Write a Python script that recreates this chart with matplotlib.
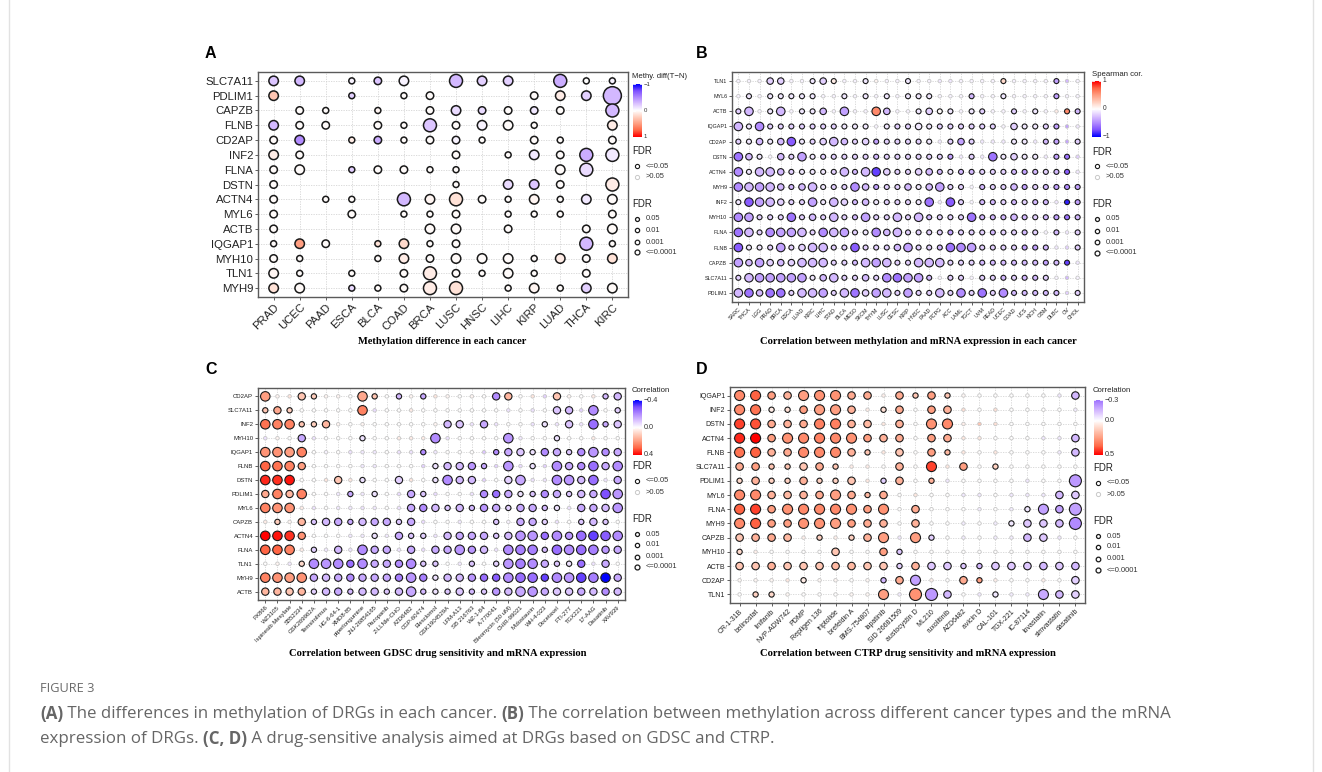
import numpy as np
import matplotlib.pyplot as plt
from matplotlib.colors import LinearSegmentedColormap

# ---------------- data ----------------
# sizes: A -> 0 = no point, 1..5 bubble size; B/C/D -> 0 = FDR>0.05, 1..4 bubble size
# values in hundredths (methylation diff / correlation)
a_genes = ["SLC7A11", "PDLIM1", "CAPZB", "FLNB", "CD2AP", "INF2", "FLNA", "DSTN",
           "ACTN4", "MYL6", "ACTB", "IQGAP1", "MYH10", "TLN1", "MYH9"]
a_cancers = ["PRAD", "UCEC", "PAAD", "ESCA", "BLCA", "COAD", "BRCA", "LUSC",
             "HNSC", "LIHC", "KIRP", "LUAD", "THCA", "KIRC"]
a_size = [
    [3, 3, 0, 1, 2, 3, 0, 4, 3, 3, 0, 4, 1, 1],
    [3, 0, 0, 1, 0, 1, 2, 0, 0, 0, 2, 3, 3, 5],
    [0, 2, 1, 0, 1, 0, 2, 3, 2, 2, 2, 2, 0, 4],
    [3, 2, 2, 0, 2, 1, 4, 2, 3, 3, 1, 0, 0, 3],
    [2, 3, 0, 1, 2, 1, 2, 2, 1, 0, 2, 1, 0, 2],
    [3, 2, 0, 0, 0, 0, 0, 2, 0, 1, 3, 2, 4, 4],
    [2, 3, 0, 1, 2, 2, 1, 1, 0, 0, 0, 3, 4, 0],
    [2, 0, 0, 0, 0, 0, 0, 1, 0, 3, 3, 2, 0, 4],
    [2, 0, 1, 1, 0, 4, 3, 4, 2, 1, 3, 1, 3, 3],
    [2, 0, 0, 2, 0, 1, 1, 2, 0, 1, 1, 1, 0, 2],
    [2, 0, 0, 0, 0, 0, 3, 3, 0, 2, 0, 0, 2, 3],
    [1, 3, 2, 0, 1, 3, 1, 2, 0, 0, 0, 0, 4, 1],
    [2, 1, 0, 0, 1, 3, 2, 3, 3, 3, 1, 3, 2, 3],
    [3, 1, 0, 1, 0, 2, 4, 2, 1, 3, 1, 0, 2, 0],
    [3, 3, 0, 1, 1, 2, 4, 4, 0, 1, 3, 1, 3, 3],
]
a_val = [
    [-25, -30, 0, -5, -25, -5, 0, -30, -20, -20, 0, -35, 0, -5],
    [30, 0, 0, -20, 0, 2, 2, 0, 0, 0, 2, 10, -20, -30],
    [0, 2, 2, 0, 5, 0, 2, -15, -15, 2, -10, 2, 0, -30],
    [-30, 2, 2, 0, 2, 2, -25, 2, -5, 2, 2, 0, 0, 10],
    [2, -50, 0, 10, -35, 2, 2, -5, 2, 0, 2, 2, 0, 2],
    [10, 2, 0, 0, 0, 0, 0, 2, 0, 2, -10, 2, -35, -10],
    [2, 2, 0, -20, 2, 2, 2, 2, 0, 0, 0, 2, -15, 0],
    [2, 0, 0, 0, 0, 0, 0, 2, 0, -15, -25, 2, 0, 10],
    [2, 0, 2, 2, 0, -30, 5, 15, 2, 2, 5, 2, -10, 2],
    [2, 0, 0, 2, 0, 2, 2, 2, 0, 2, 2, 2, 0, 2],
    [2, 0, 0, 0, 0, 0, 3, 3, 0, 2, 0, 0, 2, 3],
    [2, 50, 2, 0, 15, 20, 2, 2, 0, 0, 0, 0, -30, 2],
    [2, 2, 0, 0, 2, 10, 2, 3, 2, 2, 2, 10, 2, 15],
    [5, 2, 0, 2, 0, 2, 10, 2, 2, 2, 2, 0, 2, 0],
    [15, 3, 0, -15, 2, 3, 10, 15, 0, 2, 5, 2, -20, 3],
]

b_genes = ["TLN1", "MYL6", "ACTB", "IQGAP1", "CD2AP", "DSTN", "ACTN4", "MYH9",
           "INF2", "MYH10", "FLNA", "FLNB", "CAPZB", "SLC7A11", "PDLIM1"]
b_cancers = ["SARC", "THCA", "LGG", "PRAD", "BRCA", "ESCA", "LUAD", "KIRC", "LIHC",
             "STAD", "BLCA", "MESO", "SKCM", "THYM", "LUSC", "CESC", "KIRP", "HNSC",
             "PAAD", "PCPG", "ACC", "LAML", "TGCT", "UVM", "READ", "UCEC", "COAD",
             "UCS", "KICH", "GBM", "DLBC", "OV", "CHOL"]
b_size = [
    [0, 0, 0, 2, 2, 0, 0, 1, 2, 1, 0, 0, 1, 0, 0, 0, 1, 0, 0, 0, 0, 0, 0, 0, 0, 1, 0, 0, 0, 0, 1, 0, 0],
    [0, 1, 0, 1, 1, 1, 1, 1, 0, 0, 1, 0, 1, 0, 1, 0, 1, 1, 1, 0, 0, 0, 1, 0, 0, 1, 0, 0, 0, 0, 1, 0, 0],
    [1, 3, 0, 1, 3, 0, 1, 1, 2, 0, 3, 0, 0, 3, 2, 0, 0, 1, 2, 1, 1, 0, 1, 1, 0, 0, 1, 0, 1, 0, 0, 1, 1],
    [3, 1, 3, 1, 1, 1, 1, 1, 1, 1, 1, 1, 1, 0, 1, 1, 1, 2, 1, 1, 1, 1, 1, 1, 1, 0, 2, 1, 1, 1, 1, 0, 0],
    [1, 1, 2, 1, 2, 3, 1, 1, 2, 3, 2, 1, 2, 1, 1, 1, 1, 1, 1, 0, 1, 2, 1, 0, 0, 0, 1, 1, 0, 1, 1, 0, 1],
    [3, 2, 1, 0, 2, 1, 3, 1, 1, 1, 1, 1, 1, 1, 1, 1, 1, 1, 1, 1, 1, 0, 1, 0, 3, 1, 2, 1, 1, 0, 1, 1, 0],
    [3, 1, 3, 3, 2, 1, 1, 1, 1, 1, 3, 1, 3, 3, 2, 1, 1, 2, 2, 1, 1, 1, 1, 1, 1, 1, 1, 1, 1, 1, 1, 1, 0],
    [3, 3, 3, 3, 2, 1, 2, 3, 1, 1, 1, 3, 2, 1, 1, 1, 2, 1, 2, 3, 1, 1, 0, 1, 1, 1, 2, 1, 1, 1, 1, 1, 1],
    [1, 3, 3, 3, 2, 1, 1, 3, 1, 3, 2, 1, 2, 1, 1, 1, 1, 1, 3, 0, 3, 1, 0, 1, 1, 1, 1, 1, 1, 1, 0, 1, 1],
    [3, 3, 1, 1, 1, 3, 1, 2, 1, 3, 1, 1, 3, 1, 1, 3, 1, 3, 1, 1, 1, 1, 3, 1, 1, 1, 2, 1, 1, 1, 1, 1, 1],
    [3, 3, 1, 3, 3, 3, 3, 1, 3, 3, 3, 1, 1, 3, 2, 3, 1, 1, 1, 1, 1, 1, 1, 1, 1, 1, 1, 1, 1, 0, 1, 0, 1],
    [3, 1, 1, 1, 3, 1, 2, 3, 3, 1, 1, 3, 1, 1, 1, 2, 3, 1, 1, 1, 3, 3, 3, 1, 1, 1, 1, 1, 1, 1, 0, 0, 1],
    [3, 2, 3, 2, 2, 2, 3, 3, 3, 1, 1, 1, 3, 3, 3, 1, 1, 3, 3, 3, 1, 1, 1, 1, 1, 1, 1, 1, 1, 1, 1, 1, 0],
    [1, 3, 3, 3, 3, 3, 3, 1, 2, 3, 1, 1, 2, 1, 3, 3, 3, 3, 1, 0, 1, 1, 0, 1, 1, 1, 1, 1, 1, 1, 0, 0, 0],
    [3, 3, 2, 3, 3, 1, 3, 3, 3, 1, 3, 3, 2, 3, 3, 1, 3, 1, 1, 3, 1, 3, 1, 3, 1, 3, 1, 1, 1, 1, 1, 0, 1],
]
b_val = [
    [-5, -5, -5, -20, -20, -5, -5, -10, -20, 10, -5, -5, -10, 5, -5, -5, -10, -5, -5, -10, -10, -5, -5, -5, -5, 20, -5, -5, -5, -5, -40, -30, -5],
    [-5, -10, -5, -10, -10, -10, -10, -10, -5, -5, -10, -5, -10, -5, -10, -5, -10, -10, -10, -5, -5, -5, -30, -5, -5, -10, -5, -5, -5, -5, -40, -5, -5],
    [-20, -30, -5, -10, -30, -5, -10, -10, -30, -5, -40, -5, -5, 60, -30, -5, -5, -10, -20, 2, -10, -5, -10, -20, -5, -5, -20, -5, -10, -5, 10, 60, -30],
    [-30, -10, -50, -20, -20, -20, -20, -20, -20, -20, -10, -10, -10, -5, -10, -20, -20, -10, -10, -20, -20, -20, -20, -20, -20, -5, -20, -10, -10, -20, -40, -40, -10],
    [-20, -10, -30, -10, -30, -70, -10, -20, -20, -30, -30, -20, -20, -40, -20, -20, -20, -20, -10, -10, -20, -40, -20, -10, -10, -10, -10, -10, -10, -30, -40, -40, -20],
    [-60, -30, -10, -5, -30, -20, -40, -10, -20, -20, -20, -20, -20, -30, -20, -20, -20, -20, -20, -20, -40, -10, -20, -10, -60, -10, -20, -10, -10, -10, -40, -60, -20],
    [-50, -10, -30, -30, -30, -20, -10, -10, -10, -20, -30, -30, -30, -80, -20, -20, -20, -20, -30, -30, -10, -30, -30, -20, -20, -20, -30, -40, -30, -20, -30, -70, -10],
    [-50, -30, -40, -30, -30, -30, -30, -30, -10, -20, -20, -50, -30, -40, -20, -20, -30, -10, -30, -40, -20, -20, -5, -30, -20, -20, -30, -40, -20, -30, -40, -50, -40],
    [-10, -70, -40, -30, -20, -20, -20, -40, -10, -30, -20, -30, -30, -10, -20, -20, -20, -10, -60, -10, -70, -20, -5, -30, -30, -20, -30, -20, -30, -30, -10, -90, -40],
    [-50, -40, -20, -20, -20, -60, -20, -30, -20, -30, -20, -30, -40, -20, -20, -30, -20, -30, -30, -20, -20, -20, -60, -30, -30, -30, -30, -30, -20, -30, -40, -60, -30],
    [-60, -30, -20, -50, -40, -40, -30, -20, -50, -30, -40, -20, -10, -50, -30, -30, -20, -20, -20, -20, -40, -20, -20, -20, -30, -20, -20, -30, -20, -5, -30, -10, -20],
    [-70, -10, -10, -20, -40, -20, -20, -30, -30, -20, -20, -70, -20, -20, -20, -30, -40, -20, -20, -30, -60, -50, -40, -20, -20, -20, -20, -40, -40, -30, -10, -20, -20],
    [-40, -30, -40, -20, -30, -20, -30, -30, -30, -20, -20, -30, -30, -40, -30, -20, -20, -30, -30, -30, -20, -20, -20, -30, -30, -30, -30, -30, -30, -40, -30, -80, -10],
    [-20, -30, -40, -40, -40, -40, -40, -10, -30, -30, -20, -20, -30, -20, -50, -60, -40, -40, -30, -5, -20, -20, -5, -20, -20, -30, -20, -30, -30, -20, -5, -30, -5],
    [-30, -60, -30, -60, -60, -20, -30, -30, -40, -20, -30, -60, -20, -40, -30, -20, -40, -20, -20, -30, -20, -50, -20, -60, -20, -50, -30, -30, -30, -30, -30, -20, -20],
]

c_genes = ["CD2AP", "SLC7A11", "INF2", "MYH10", "IQGAP1", "FLNB", "DSTN", "PDLIM1",
           "MYL6", "CAPZB", "ACTN4", "FLNA", "TLN1", "MYH9", "ACTB"]
c_drugs = ["PX866", "WZ3105", "Ispinesib Mesylate", "SB52334", "GSK269962A",
           "Temsirolimus", "HG-6-64-1", "XMD8-85", "piperlongumine", "JNJ-26854165",
           "Pazopanib", "Z-LLNle-CHO", "AZD6482", "CGP-60474", "Elesclomol",
           "GSK1904529A", "LFM-A13", "SB 216763", "WZ-1-84", "A-770041",
           "Bleomycin (50 uM)", "CHIR-99021", "Midostaurin", "WH-4-023", "Docetaxel",
           "FTI-277", "TGX221", "17-AAG", "Dasatinib", "XAV939"]
c_size = [
    [3, 0, 0, 2, 1, 0, 0, 0, 3, 1, 0, 1, 0, 1, 0, 0, 0, 0, 0, 2, 2, 0, 0, 0, 2, 0, 0, 0, 1, 2],
    [1, 2, 1, 0, 0, 0, 0, 0, 3, 0, 0, 0, 0, 0, 0, 0, 0, 0, 0, 0, 0, 0, 0, 0, 2, 2, 0, 3, 0, 1],
    [3, 3, 3, 1, 1, 2, 0, 0, 0, 0, 0, 0, 0, 0, 0, 2, 2, 0, 2, 0, 0, 0, 0, 1, 0, 2, 0, 3, 1, 2],
    [0, 0, 0, 2, 0, 0, 0, 0, 1, 0, 0, 0, 0, 0, 3, 0, 0, 0, 0, 0, 3, 0, 0, 0, 1, 0, 0, 0, 0, 0],
    [3, 3, 3, 3, 0, 0, 0, 0, 0, 0, 0, 0, 0, 1, 0, 0, 0, 0, 0, 1, 2, 2, 1, 2, 2, 1, 2, 3, 2, 2],
    [3, 3, 3, 2, 0, 0, 0, 0, 0, 0, 0, 0, 0, 0, 1, 2, 2, 2, 1, 0, 3, 0, 1, 0, 3, 2, 2, 3, 2, 3],
    [3, 3, 3, 0, 0, 0, 2, 0, 1, 0, 0, 2, 0, 0, 1, 3, 2, 2, 0, 0, 2, 3, 0, 0, 3, 3, 2, 3, 0, 2],
    [2, 3, 2, 3, 0, 0, 0, 1, 0, 1, 0, 0, 2, 1, 0, 0, 0, 0, 2, 2, 2, 1, 1, 2, 2, 1, 2, 2, 3, 3],
    [3, 3, 3, 0, 0, 0, 0, 0, 0, 0, 0, 0, 2, 2, 2, 1, 2, 1, 2, 2, 1, 2, 2, 1, 1, 0, 2, 2, 2, 3],
    [0, 1, 0, 2, 1, 2, 2, 1, 2, 2, 2, 1, 2, 0, 0, 0, 0, 0, 0, 1, 0, 2, 2, 1, 0, 0, 1, 2, 1, 0],
    [3, 3, 3, 2, 0, 0, 0, 0, 0, 1, 0, 2, 1, 1, 0, 2, 2, 2, 2, 1, 2, 3, 3, 2, 3, 2, 3, 3, 3, 3],
    [3, 3, 3, 0, 1, 0, 2, 0, 3, 2, 2, 0, 2, 0, 2, 2, 3, 2, 2, 0, 3, 3, 3, 1, 3, 3, 3, 3, 2, 2],
    [0, 0, 0, 1, 3, 3, 3, 2, 3, 2, 2, 2, 3, 1, 1, 0, 0, 1, 0, 1, 3, 3, 3, 2, 1, 1, 2, 0, 2, 0],
    [3, 3, 3, 3, 2, 2, 2, 2, 2, 2, 2, 2, 3, 2, 1, 2, 2, 2, 2, 2, 3, 3, 3, 2, 3, 3, 3, 3, 3, 2],
    [2, 2, 2, 2, 1, 2, 2, 1, 2, 2, 1, 2, 3, 1, 1, 1, 2, 1, 1, 2, 2, 3, 3, 2, 2, 2, 2, 2, 2, 2],
]
c_val = [
    [20, 2, 5, 12, 10, 2, 2, 0, 18, 12, 0, -12, 2, -15, 5, 2, 0, 2, 0, -20, 15, 0, 5, -8, 12, 2, 0, 4, -12, -12],
    [12, 18, 10, 0, 0, 0, 0, 0, 25, -6, 0, 0, 4, 0, 0, 0, 0, 0, 0, 0, -5, 0, -5, 0, -10, -12, -8, -20, 0, -8],
    [28, 25, 25, 12, 10, 15, 2, 0, 2, 0, 0, 0, 0, 0, 2, -12, -10, -5, -15, -5, 0, 0, -5, -5, -5, -10, -5, -25, -15, -10],
    [-5, 2, 0, -15, -5, 0, 0, 0, -5, 0, 0, 4, 4, 4, -20, -5, 0, 0, 0, 0, -18, -4, 0, 0, -5, 0, 0, 4, 0, 0],
    [22, 22, 20, 25, 0, -2, 0, -5, -4, -4, 0, -5, -5, -20, -4, 0, 0, 0, -10, -20, -15, -10, -5, -20, -15, -10, -20, -18, -20, -15],
    [30, 28, 25, 20, 0, 0, 0, 0, -4, -4, 0, 0, 0, -8, -5, -12, -12, -18, -15, -8, -18, -6, -5, -8, -20, -15, -20, -25, -15, -20],
    [36, 35, 38, 0, 0, 5, 12, 5, -5, 0, 0, -8, 5, 0, -5, -20, -12, -12, -8, 0, -8, -15, -5, -5, -20, -18, -12, -25, -5, -15],
    [18, 25, 15, 25, 0, 0, -4, -15, -4, -5, 0, -6, -15, -10, -6, 0, 0, -5, -20, -25, -15, -5, -10, -20, -15, -10, -12, -15, -30, -18],
    [25, 22, 22, 4, -5, 0, -4, -4, -5, -4, 0, -5, -15, -20, -12, -10, -12, -12, -18, -15, -8, -15, -15, -12, -5, -5, -15, -15, -12, -18],
    [4, 10, 2, 15, -10, -12, -15, -15, -12, -15, -15, -10, -15, -6, 0, 0, -4, 0, 0, -10, -2, -15, -15, -8, -5, 0, -10, -12, -10, 0],
    [40, 38, 35, 22, 0, 0, 0, -4, -4, -5, -4, -15, -10, -8, -5, -12, -15, -15, -15, -10, -12, -18, -18, -25, -20, -18, -25, -32, -28, -20],
    [30, 30, 25, 4, -8, -4, -12, -5, -20, -15, -15, -5, -15, -6, -15, -15, -18, -18, -12, -5, -20, -22, -22, -12, -25, -20, -25, -22, -18, -15],
    [0, 2, -4, 8, -20, -18, -20, -25, -20, -15, -15, -20, -20, -10, -10, 0, -4, -10, 0, -8, -18, -22, -20, -15, -10, -5, -25, -5, -15, 0],
    [25, 22, 20, 22, -15, -12, -15, -20, -15, -15, -15, -22, -18, -22, -5, -12, -12, -18, -25, -28, -20, -25, -25, -32, -20, -18, -32, -22, -40, -15],
    [15, 15, 12, 15, -8, -12, -15, -12, -12, -12, -10, -12, -15, -12, -5, -10, -10, -12, -10, -18, -12, -15, -18, -15, -10, -10, -15, -12, -20, -12],
]

d_genes = ["IQGAP1", "INF2", "DSTN", "ACTN4", "FLNB", "SLC7A11", "PDLIM1", "MYL6",
           "FLNA", "MYH9", "CAPZB", "MYH10", "ACTB", "CD2AP", "TLN1"]
d_drugs = ["CR-1-31B", "belinostat", "linifanib", "NVP-ADW742", "PDMP", "Repligen 136",
           "triptolide", "brefeldin A", "BMS-754807", "lapatinib", "SID 26681509",
           "austocystin D", "ML210", "ruxolitinib", "AZD6482", "avicin D", "CAL-101",
           "TGX-221", "IC-87114", "lovastatin", "simvastatin", "dasatinib"]
d_size = [
    [3, 3, 2, 2, 3, 3, 3, 2, 2, 0, 2, 1, 2, 1, 0, 0, 0, 0, 0, 0, 0, 2],
    [3, 3, 1, 1, 2, 3, 3, 2, 0, 1, 2, 0, 2, 2, 0, 0, 0, 0, 0, 0, 0, 0],
    [3, 3, 2, 2, 2, 3, 3, 2, 2, 0, 2, 0, 3, 3, 0, 0, 0, 0, 0, 0, 0, 0],
    [3, 3, 2, 3, 3, 3, 3, 3, 2, 2, 2, 0, 2, 2, 0, 0, 0, 0, 0, 0, 0, 2],
    [3, 3, 2, 2, 3, 3, 3, 2, 1, 0, 2, 0, 2, 1, 0, 0, 0, 0, 0, 0, 0, 2],
    [2, 2, 1, 1, 2, 2, 1, 0, 0, 0, 2, 0, 3, 0, 2, 0, 1, 0, 0, 0, 0, 0],
    [1, 2, 1, 1, 2, 1, 1, 2, 0, 1, 2, 0, 1, 0, 0, 0, 0, 0, 0, 0, 0, 4],
    [3, 3, 2, 2, 2, 2, 3, 2, 1, 2, 0, 0, 0, 0, 0, 0, 0, 0, 0, 0, 2, 2],
    [3, 3, 2, 3, 3, 3, 3, 3, 2, 3, 0, 2, 0, 0, 0, 0, 0, 0, 1, 3, 2, 4],
    [3, 3, 2, 2, 3, 3, 3, 2, 2, 2, 0, 2, 0, 0, 0, 0, 0, 1, 2, 2, 2, 4],
    [2, 2, 2, 2, 0, 1, 0, 1, 2, 3, 0, 3, 1, 0, 0, 0, 0, 0, 2, 2, 0, 0],
    [1, 0, 0, 0, 0, 0, 2, 0, 0, 2, 1, 0, 0, 0, 0, 0, 0, 0, 0, 0, 0, 0],
    [2, 2, 2, 2, 2, 2, 2, 2, 2, 2, 1, 2, 2, 2, 1, 1, 2, 2, 2, 2, 2, 2],
    [0, 0, 0, 0, 1, 0, 0, 0, 0, 1, 2, 3, 0, 0, 2, 1, 0, 0, 0, 0, 0, 2],
    [0, 1, 1, 0, 0, 0, 0, 0, 0, 3, 0, 4, 4, 2, 0, 0, 1, 0, 0, 3, 2, 2],
]
d_val = [
    [30, 38, 25, 20, 25, 28, 28, 22, 22, 4, 22, 15, 25, 15, 2, 0, 0, 0, 0, 0, -5, -15],
    [30, 35, 5, 8, 25, 25, 25, 20, 5, 8, 22, 0, 25, 20, 8, 0, 8, 0, 0, 0, 0, -4],
    [42, 40, 22, 20, 22, 32, 32, 20, 18, 6, 20, 0, 28, 30, 4, 15, 8, 0, 0, 0, 0, 0],
    [45, 50, 25, 28, 30, 32, 30, 28, 25, 20, 22, 0, 25, 22, 6, 6, 0, 0, 0, -5, -5, -15],
    [35, 38, 20, 22, 30, 30, 30, 20, 15, 6, 15, 0, 25, 18, 6, 0, 6, 0, 0, 0, -4, -15],
    [22, 25, 15, 15, 15, 22, 15, 5, 5, 0, 20, 0, 42, 6, 25, 0, 12, 0, 0, 0, 0, 0],
    [10, 20, 12, 12, 20, 12, 12, 15, 6, -10, 20, 0, 20, -5, 0, 0, 0, 0, -5, 0, 0, -22],
    [30, 30, 20, 18, 20, 22, 25, 22, 18, 22, 0, 6, 0, 0, -5, -5, 0, -5, -5, -5, -15, -12],
    [38, 42, 25, 28, 30, 30, 30, 28, 25, 28, 0, 22, 0, 0, 0, -4, 0, -4, -5, -20, -20, -20],
    [30, 38, 25, 25, 28, 28, 25, 25, 22, 20, 0, 20, 0, 0, -4, 0, -4, -5, -12, -12, -15, -25],
    [15, 20, 22, 18, 4, 12, 4, 12, 20, 25, -5, 25, -10, 0, -4, 0, -4, -4, -15, -12, -5, 0],
    [10, 4, 0, 0, 0, 0, 15, 0, 0, 25, -12, 0, 0, 0, 0, 0, 0, 0, 0, 0, 0, 0],
    [15, 15, 20, 15, 15, 15, 18, 18, 15, 15, -10, 20, -12, -12, -12, -15, -12, -12, -12, -15, -12, -15],
    [2, 2, 2, 6, 5, 2, 2, 0, 2, -15, 22, -20, 4, 0, 22, 25, 4, 0, 0, 4, 0, -10],
    [0, 12, 10, 2, 0, 0, 0, 2, 2, 25, -4, 28, -22, -15, 0, -5, -5, -4, -4, -18, -15, -10],
]

# ---------------- drawing ----------------
W, H = 1322, 772
fig = plt.figure(figsize=(W / 100, H / 100), dpi=100)
SANS = "Liberation Sans"
SERIF = "Liberation Serif"

cmap = LinearSegmentedColormap.from_list("gr2", [
    (0, "#0000FF"), (0.125, "#7F51FF"), (0.25, "#B28BFF"), (0.375, "#DCC4FF"),
    (0.5, "#FFFFFF"), (0.625, "#FFCFBE"), (0.75, "#FF9F82"), (0.875, "#FF6846"),
    (1, "#FF0000")])


def px_axes(l, t, r, b):
    return fig.add_axes([l / W, 1 - b / H, (r - l) / W, (b - t) / H])


def pt2(d_px):
    return (d_px * 0.72) ** 2


def bubble(ax, cols, rows, size, val, lim, diam, fs, lw, a_style=False):
    size = np.array(size)
    val = np.array(val) / 100.0
    nr, nc = size.shape
    ax.set_xlim(0.4, nc + 0.6)
    ax.set_ylim(nr + 0.6, 0.4)
    for i in range(1, nc + 1):
        ax.axvline(i, color="#d4d4d4", lw=0.6, ls=(0, (1.5, 1.5)), zorder=0)
    for j in range(1, nr + 1):
        ax.axhline(j, color="#d4d4d4", lw=0.6, ls=(0, (1.5, 1.5)), zorder=0)
    yy, xx = np.mgrid[1:nr + 1, 1:nc + 1]
    colors = cmap(np.clip(0.5 + val / (2 * lim), 0, 1))
    d = np.array(diam)[size]
    if a_style:
        m = size > 0
        ax.scatter(xx[m], yy[m], s=pt2(d[m]), c=colors[m], edgecolors="#1a1a1a",
                   linewidths=lw, zorder=3)
    else:
        m = size == 0
        ax.scatter(xx[m], yy[m], s=pt2(d[m]), c=colors[m], edgecolors="#c8c8c8",
                   linewidths=lw * 0.8, zorder=2)
        m = size > 0
        ax.scatter(xx[m], yy[m], s=pt2(d[m]), c=colors[m], edgecolors="#1a1a1a",
                   linewidths=lw, zorder=3)
    ax.set_xticks(range(1, nc + 1))
    ax.set_xticklabels(cols, rotation=45, ha="right", rotation_mode="anchor",
                       fontsize=fs, family=SANS, color="#222222")
    ax.set_yticks(range(1, nr + 1))
    ax.set_yticklabels(rows, fontsize=fs, family=SANS, color="#222222")
    ax.tick_params(length=2, width=0.6, color="#444444", pad=1.5)
    for sp in ax.spines.values():
        sp.set_color("#5a5a5a")
        sp.set_linewidth(1.0)


axA = px_axes(258, 72, 628, 297)
bubble(axA, a_cancers, a_genes, a_size, a_val, 1.0, [0, 6, 7.5, 9.5, 13, 18], 8.2, 1.1,
       a_style=True)
axB = px_axes(732, 72, 1084, 302)
bubble(axB, b_cancers, b_genes, b_size, b_val, 1.0, [3.5, 5, 6.5, 8.5, 10], 3.9, 0.8)
axC = px_axes(258, 388, 625, 600)
bubble(axC, c_drugs, c_genes, c_size, c_val, 0.4, [3.5, 5.3, 7.3, 9.5, 11], 4.3, 0.8)
axD = px_axes(730, 387, 1085, 603)
bubble(axD, d_drugs, d_genes, d_size, d_val, 0.5, [3.5, 5.3, 7.5, 10, 12], 5.0, 0.8)

# overlay in pixel coordinates
ov = fig.add_axes([0, 0, 1, 1], zorder=10)
ov.patch.set_alpha(0)
ov.axis("off")


def txt(x, y, s, **kw):
    kw.setdefault("family", SANS)
    kw.setdefault("va", "center")
    ov.text(x, y, s, **kw)


def legend(x, y_title, title, x_cb, cb_top, cb_bot, vmin, vmax, top_neg, ticks, lim,
           fdr1, fdr2_rows, fdr2_y, lab_fs):
    txt(x, y_title, title, fontsize=5.6, color="#222222")
    n = 100
    grad = np.linspace(vmin, vmax, n) if top_neg else np.linspace(vmax, vmin, n)
    img = cmap(np.clip(0.5 + grad / (2 * lim), 0, 1))[:, None, :]
    ov.imshow(img, extent=[x_cb, x_cb + 8.5, cb_bot, cb_top], aspect="auto",
              origin="upper", zorder=5)
    for t in ticks:
        frac = (t - vmin) / (vmax - vmin)
        yt = cb_top + frac * (cb_bot - cb_top) if top_neg else cb_bot - frac * (cb_bot - cb_top)
        ov.plot([x_cb, x_cb + 1.8], [yt, yt], color="white", lw=0.6, zorder=6)
        ov.plot([x_cb + 6.7, x_cb + 8.5], [yt, yt], color="white", lw=0.6, zorder=6)
        lab = ("%g" % t) if lim >= 1 else ("%.1f" % t)
        if t < 0:
            lab = "\u2212" + lab[1:]
        txt(x_cb + 11, yt, lab, fontsize=lab_fs, color="#333333")
    # FDR significance legend
    txt(x, fdr1[0], "FDR", fontsize=7, color="#222222")
    cx = x + 5
    ov.scatter([cx], [fdr1[1]], s=pt2(4.2), facecolors="white", edgecolors="#1a1a1a",
               linewidths=0.8, zorder=6)
    txt(cx + 9, fdr1[1], "<=0.05", fontsize=5.4, color="#333333")
    ov.scatter([cx], [fdr1[2]], s=pt2(4.2), facecolors="white", edgecolors="#c8c8c8",
               linewidths=0.7, zorder=6)
    txt(cx + 9, fdr1[2], ">0.05", fontsize=5.4, color="#333333")
    # FDR size legend
    txt(x, fdr2_y, "FDR", fontsize=7, color="#222222")
    for k, (yy, lab) in enumerate(zip(fdr2_rows, ["0.05", "0.01", "0.001", "<=0.0001"])):
        ov.scatter([cx], [yy], s=pt2(4.0 + 0.3 * k), facecolors="white",
                   edgecolors="#1a1a1a", linewidths=0.9, zorder=6)
        txt(cx + 9, yy, lab, fontsize=5.4, color="#333333")


legend(632, 76, "Methy. diff(T\u2212N)", 633, 84, 137, -1, 1, True, [-1, 0, 1], 1.0,
       (151, 166, 177), [219, 230, 242, 252], 204, 4.3)
legend(1092, 74, "Spearman cor.", 1092, 81, 137, -1, 1, False, [-1, 0, 1], 1.0,
       (152, 166, 177), [219, 231, 242, 253], 204, 4.8)
legend(632, 391, "Correlation", 632.5, 400, 455, -0.4, 0.4, True, [-0.4, 0.0, 0.4], 0.4,
       (466, 481, 492), [534, 545, 557, 567], 519, 5.2)
legend(1093, 391, "Correlation", 1093.5, 400, 455, -0.3, 0.5, True, [-0.3, 0.0, 0.5], 0.5,
       (468, 483, 494), [536, 547, 559, 570], 521, 5.2)

# panel letters and titles
for lx, ly, letter in [(205, 53, "A"), (696, 53, "B"), (205, 369, "C"), (696, 369, "D")]:
    txt(lx, ly, letter, fontsize=11.5, weight="bold", color="black")
for cx, cy, t in [(442, 342, "Methylation difference in each cancer"),
                  (918, 342, "Correlation between methylation and mRNA expression in each cancer"),
                  (438, 654, "Correlation between GDSC drug sensitivity and mRNA expression"),
                  (908, 654, "Correlation between CTRP drug sensitivity and mRNA expression")]:
    txt(cx, cy, t, fontsize=7.6, weight="bold", family=SERIF, ha="center", color="black")

# frame
ov.plot([9, 9], [-5, 780], color="#e2e2e2", lw=1)
ov.plot([1313, 1313], [-5, 780], color="#e2e2e2", lw=1)

# caption
CAP = "Open Sans"
CAPC = "#666666"
txt(40, 688, "FIGURE 3", fontsize=9.2, family=CAP, color="#6a6a6a")
renderer = fig.canvas.get_renderer()


def rich(x, y, parts):
    ov.set_xlim(0, W)
    ov.set_ylim(H, 0)
    for s, w in parts:
        t = ov.text(x, y, s, fontsize=12.2, family=CAP, weight=w, color=CAPC, va="center")
        bb = t.get_window_extent(renderer=renderer)
        x += bb.width


rich(40, 714, [("(A)", "bold"), (" The differences in methylation of DRGs in each cancer. ", "normal"),
               ("(B)", "bold"),
               (" The correlation between methylation across different cancer types and the mRNA", "normal")])
rich(40, 739, [("expression of DRGs. ", "normal"), ("(C, D)", "bold"),
               (" A drug-sensitive analysis aimed at DRGs based on GDSC and CTRP.", "normal")])

ov.set_xlim(0, W)
ov.set_ylim(H, 0)
fig.savefig("out.png", dpi=100)
